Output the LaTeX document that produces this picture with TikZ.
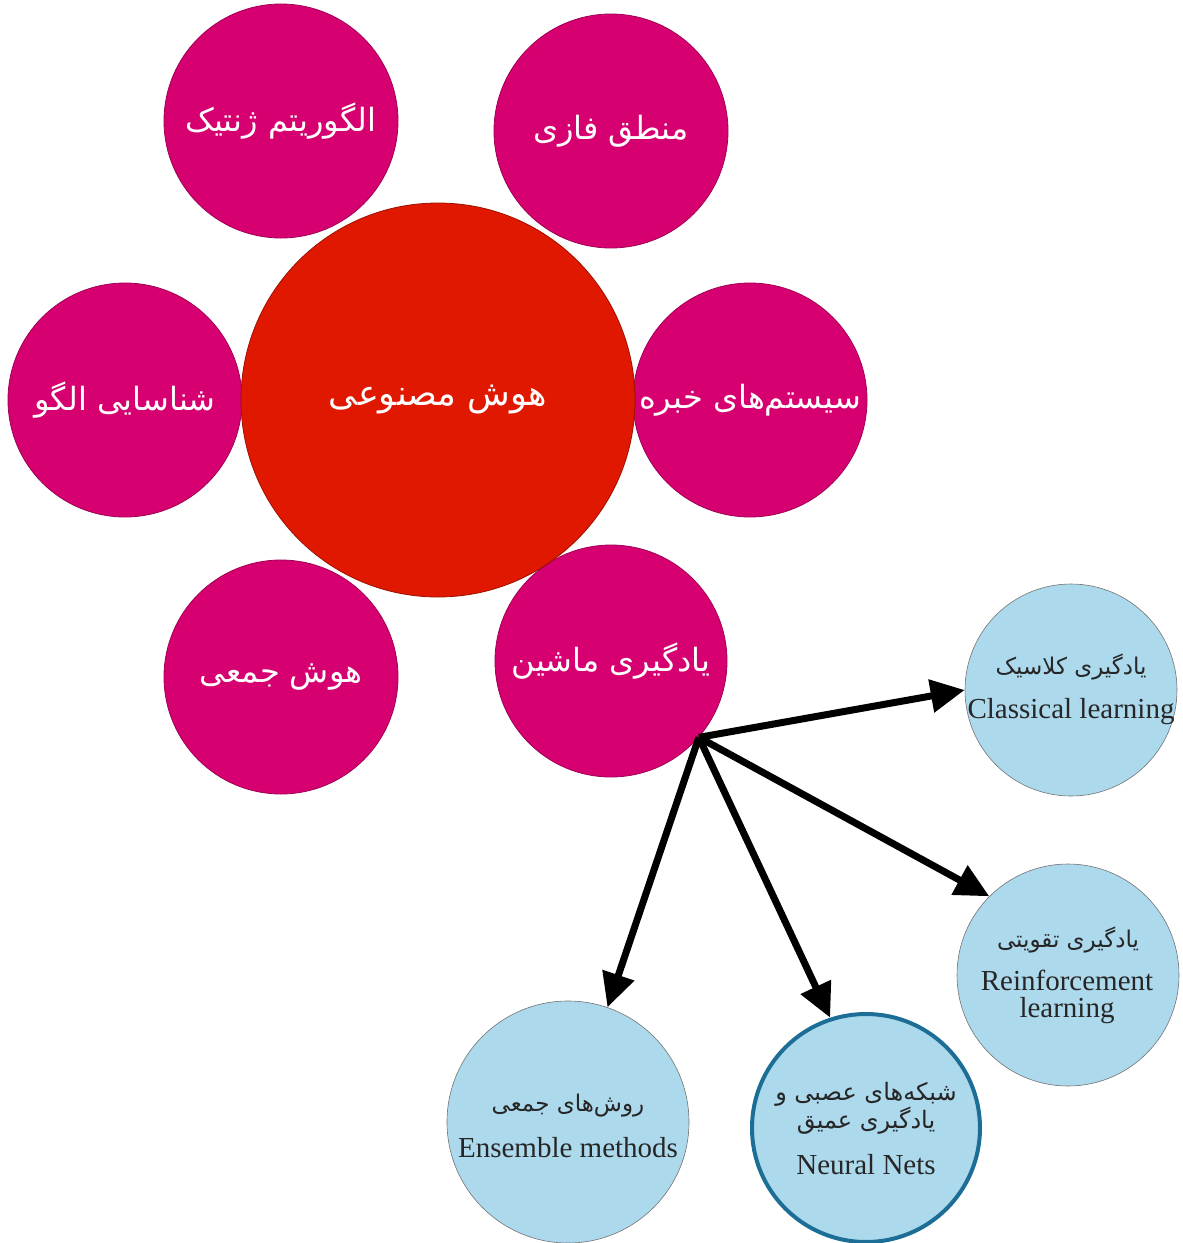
\documentclass[tikz,border=0pt]{standalone}
\usepackage{fontspec}
\setmainfont{Liberation Serif}
\newfontfamily\fa[Script=Arabic]{DejaVu Sans}
\TeXXeTstate=1
\usetikzlibrary{arrows.meta}
\definecolor{mag}{RGB}{214,0,112}
\definecolor{aired}{RGB}{224,24,0}
\definecolor{lblue}{RGB}{173,217,237}
\definecolor{nnborder}{RGB}{28,110,150}
\begin{document}
\begin{tikzpicture}[x=1pt,y=-1pt,
  topic/.style={circle,fill=mag,draw=mag!75!black,line width=0.8pt,minimum size=234pt,inner sep=0pt,
    text=white,font=\fa\fontsize{32}{38}\selectfont},
  core/.style={circle,fill=aired,draw=aired!70!black,line width=0.8pt,minimum size=394pt,inner sep=0pt,
    text=white,font=\fa\fontsize{35}{40}\selectfont},
  sub/.style={circle,fill=lblue,draw=black!55,line width=0.6pt,inner sep=0pt},
  fatxt/.style={font=\fa\fontsize{23}{28}\selectfont,text=black!85,align=center},
  entxt/.style={font=\fontsize{29}{27}\selectfont,text=black!85,align=center},
  arr/.style={line width=7pt,-{Triangle[length=34pt,width=32pt]}}]
\useasboundingbox (0,0) rectangle (1183,1243);

% outer topics
\node[topic] (ga) at (281,121) {\beginR الگوریتم ژنتیک\endR};
\node[topic] (fl) at (611,131) {\beginR منطق فازی\endR};
\node[topic] (pr) at (125,400) {\beginR شناسایی الگو\endR};
\node[topic] (es) at (750,400) {\beginR سیستم^^^^200cهای خبره\endR};
\node[topic] (si) at (281,677) {\beginR هوش جمعی\endR};
\node[topic,minimum size=232pt] (ml) at (611,661) {\beginR یادگیری ماشین\endR};

% core
\node[core] (ai) at (438,400) {\beginR هوش مصنوعی\endR};

% sub topics of machine learning
\node[sub,minimum size=212pt] (cl) at (1071,690) {};
\node[sub,minimum size=222pt] (rl) at (1068,975) {};
\node[sub,draw=nnborder,line width=4pt,minimum size=228pt] (nn) at (866,1128) {};
\node[sub,minimum size=242pt] (en) at (568,1122) {};

\node[fatxt] (clfa) at (1071,667) {\beginR یادگیری کلاسیک\endR};
\node[entxt] (clen) at (1071,712) {Classical learning};
\node[fatxt] (rlfa) at (1068,940) {\beginR یادگیری تقویتی\endR};
\node[entxt] (rlen) at (1067,997) {Reinforcement\\learning};
\node[fatxt,font=\fa\fontsize{24}{28}\selectfont] (nnfa) at (866,1108) {\beginR شبکه^^^^200cهای عصبی و\endR\\\beginR یادگیری عمیق\endR};
\node[entxt] (nnen) at (866,1165) {Neural Nets};
\node[fatxt] (enfa) at (568,1106) {\beginR روش^^^^200cهای جمعی\endR};
\node[entxt] (enen) at (568,1148) {Ensemble methods};

% connectors
\coordinate (src) at (ml.-41);
\draw[arr] (src) -- (cl.west);
\draw[arr] (src) -- (rl.135);
\draw[arr] (src) -- (nn.108);
\draw[arr] (src) -- (en.71);
\end{tikzpicture}
\end{document}
